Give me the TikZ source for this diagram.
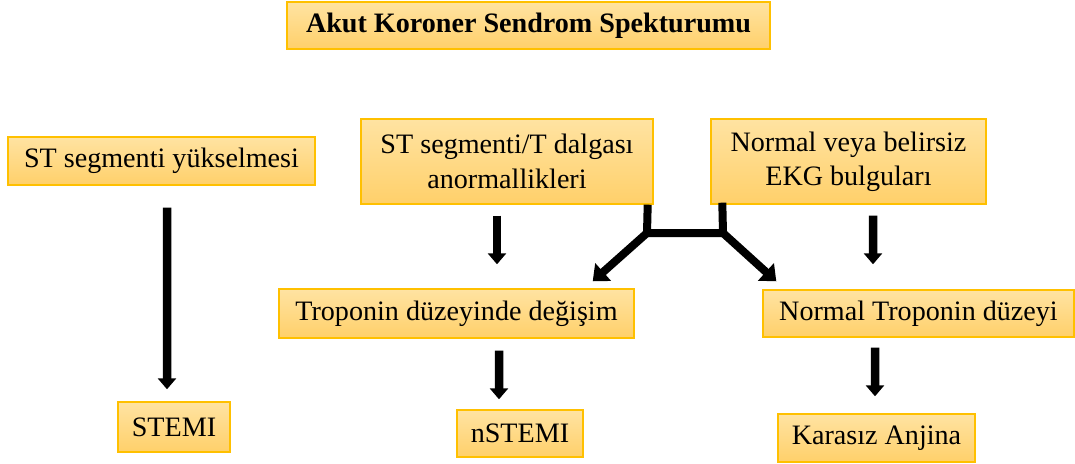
\documentclass[tikz,border=0pt]{standalone}
\usepackage{fontspec}
\setmainfont{Liberation Serif}
\usetikzlibrary{arrows.meta,calc}

\definecolor{boxline}{RGB}{255,192,0}
\definecolor{boxtop}{RGB}{255,227,162}
\definecolor{boxbot}{RGB}{255,208,106}

\begin{document}
\begin{tikzpicture}

\useasboundingbox (0,0) rectangle (21.5,-9.26);

%%% Styles

\tikzstyle{box}=[rectangle, draw=boxline, line width=0.8pt, top color=boxtop, bottom color=boxbot,
                 inner sep=0pt, align=center, font=\fontsize{16}{19.5}\selectfont]
\tikzstyle{arr}=[line width=0.17cm, -{Triangle[width=0.36cm,length=0.22cm]}]
\tikzstyle{diag}=[line width=0.16cm, -{Triangle[width=0.46cm,length=0.28cm]}]


% Title

\node (title) [box, minimum width=9.66cm, minimum height=0.94cm] at (10.57,-0.51)
      {\bfseries Akut Koroner Sendrom Spekturumu};


%%% Top row

\node (stys) [box, minimum width=6.14cm, minimum height=0.96cm] at (3.23,-3.22) {ST segmenti yükselmesi};

\node (tst) [box, minimum width=5.84cm, minimum height=1.70cm] at (10.14,-3.23)
      {ST segmenti/T dalgası\\anormallikleri};

\node (ekg) [box, minimum width=5.50cm, minimum height=1.70cm] at (16.97,-3.23)
      {Normal veya belirsiz\\EKG bulguları};


%%% Middle row

\node (trop) [box, minimum width=7.10cm, minimum height=0.98cm] at (9.13,-6.27) {Troponin düzeyinde değişim};

\node (ntrop) [box, minimum width=6.22cm, minimum height=0.94cm] at (18.37,-6.27) {Normal Troponin düzeyi};


%%% Bottom row

\node (stemi) [box, minimum width=2.24cm, minimum height=1.00cm] at (3.48,-8.54) {STEMI};
\node (nst)   [box, minimum width=2.52cm, minimum height=0.94cm] at (10.40,-8.67) {nSTEMI};
\node (kar)   [box, minimum width=3.94cm, minimum height=0.96cm] at (17.53,-8.76) {Karasız Anjina};


% Straight arrows

\draw [arr] ($(stys.south)+(0.11,-0.44)$) -- ($(stemi.north)+(-0.14,0.24)$);

\draw [arr] ($(tst.south)+(-0.20,-0.22)$) -- ($(trop.north)+(0.81,0.48)$);

\draw [arr] ($(ekg.south)+(0.49,-0.22)$) -- ($(ntrop.north)+(-0.91,0.50)$);

\draw [arr] ($(trop.south)+(0.85,-0.24)$) -- ($(nst.north)+(-0.42,0.20)$);

\draw [arr] ($(ntrop.south)+(-0.87,-0.20)$) -- ($(kar.north)+(-0.03,0.34)$);


% Joined branch

\coordinate (jl) at (12.94,-4.66);
\coordinate (jr) at (14.46,-4.66);

\draw [line width=0.16cm]
($(tst.south east)+(-0.12,0)$) -- (jl) -- (jr) -- ($(ekg.south west)+(0.24,0.04)$);

\draw [diag] (jl) -- ($(trop.north east)+(-0.84,0.14)$);

\draw [diag] (jr) -- ($(ntrop.north west)+(0.28,0.16)$);

\end{tikzpicture}
\end{document}
